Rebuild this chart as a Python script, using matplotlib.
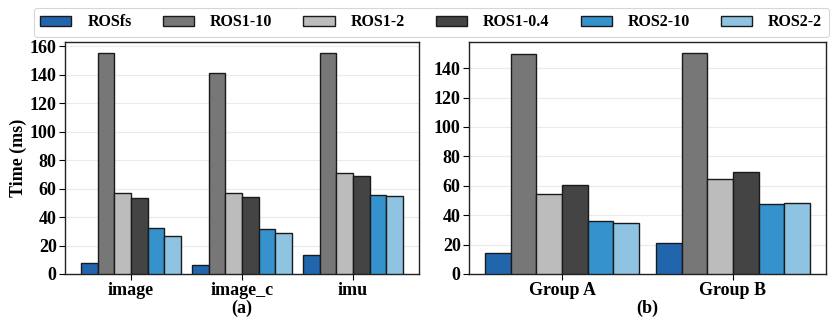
import matplotlib
matplotlib.use("Agg")
import matplotlib.pyplot as plt
from matplotlib.ticker import MultipleLocator
import numpy as np

plt.rcParams['font.family'] = ['Liberation Serif', 'DejaVu Serif']
plt.rcParams['font.weight'] = 'bold'

series = ['ROSfs', 'ROS1-10', 'ROS1-2', 'ROS1-0.4', 'ROS2-10', 'ROS2-2']
colors = ['#2166ac', '#777777', '#bcbcbc', '#444444', '#3592cd', '#8ec4e2']

cats_a = ['image', 'image_c', 'imu']
vals_a = {
    'ROSfs':    [7.9, 6.3, 13.5],
    'ROS1-10':  [155.1, 141.4, 155.1],
    'ROS1-2':   [57.0, 56.7, 70.9],
    'ROS1-0.4': [53.3, 54.0, 69.1],
    'ROS2-10':  [32.3, 31.9, 55.8],
    'ROS2-2':   [26.7, 28.8, 54.7],
}

cats_b = ['Group A', 'Group B']
vals_b = {
    'ROSfs':    [14.0, 21.2],
    'ROS1-10':  [149.9, 150.3],
    'ROS1-2':   [54.2, 64.8],
    'ROS1-0.4': [60.3, 69.5],
    'ROS2-10':  [35.9, 47.6],
    'ROS2-2':   [34.5, 48.5],
}

width = 0.15


def draw(ax, cats, vals, label):
    x = np.arange(len(cats))
    handles = []
    for i, (s, c) in enumerate(zip(series, colors)):
        h = ax.bar(x + (i - 2.5) * width, vals[s], width, color=c,
                   edgecolor='#1a1a1a', linewidth=1.0, label=s, zorder=3)
        handles.append(h)
    ax.set_xticks(x)
    ax.set_xticklabels(cats, fontsize=13, fontweight='bold')
    ax.set_xlabel(label, fontsize=13, fontweight='bold', labelpad=0)
    ax.yaxis.set_major_locator(MultipleLocator(20))
    ax.yaxis.grid(True, color='#ebebeb', linewidth=0.8, zorder=0)
    ax.set_axisbelow(True)
    for sp in ax.spines.values():
        sp.set_color('#222222')
        sp.set_linewidth(1.0)
    ax.tick_params(axis='both', labelsize=13, length=4, width=0.8, pad=2)
    ax.tick_params(axis='x', pad=2)
    for t in ax.get_yticklabels():
        t.set_fontweight('bold')
    return handles


fig = plt.figure(figsize=(8.31, 3.23), dpi=100)
ax1 = fig.add_axes([65 / 831, 1 - 274 / 323, (419 - 65) / 831, (274 - 42) / 323])
ax2 = fig.add_axes([469 / 831, 1 - 274 / 323, (826 - 469) / 831, (274 - 42) / 323])

handles = draw(ax1, cats_a, vals_a, '(a)')
draw(ax2, cats_b, vals_b, '(b)')
ax1.set_ylabel('Time (ms)', fontsize=13, fontweight='bold', labelpad=2)

leg = fig.legend(handles, series, loc='upper center', ncol=6,
                 bbox_to_anchor=(0.519, 1.0), frameon=True, fancybox=True,
                 prop={'weight': 'bold', 'size': 11.5}, handlelength=1.95,
                 handleheight=0.6, columnspacing=1.95, borderpad=0.4,
                 handletextpad=1.0)
leg.get_frame().set_edgecolor('#cccccc')
leg.get_frame().set_linewidth(0.8)

fig.savefig('out.png', dpi=100)
